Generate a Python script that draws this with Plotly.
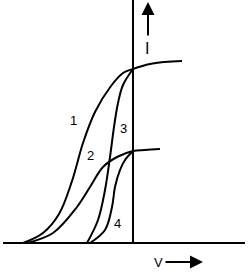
import plotly.graph_objects as go

# Schematic photo-current (I) vs voltage (V) curves, arbitrary units
curve1_v = [-110, -90, -74, -61, -50, -38, -22, -10, 0, 17, 32, 49]
curve1_i = [0, 10, 29, 62, 100, 131, 157, 170, 174, 179, 181, 182]

curve2_v = [-106, -80, -56, -43, -30, -16, 0, 12, 27]
curve2_i = [0, 10, 36, 56, 76, 86, 92, 93, 94]

curve3_v = [-46, -35, -28, -23, -19, -15, -10, 0]
curve3_i = [0, 23, 53, 86, 116, 140, 158, 174]

curve4_v = [-43, -28, -21, -18, -13, -8, 0]
curve4_i = [0, 13, 36, 56, 73, 83, 92]

curve_labels = ["1", "2", "3", "4"]
label_v = [-60, -43, -10, -16]
label_i = [123, 88, 115, 20]

axis_v = [-130, 112]
axis_i_top = 243

FONT = "Liberation Sans, Arial, sans-serif"
fig = go.Figure()

line = dict(color="black", width=2)
for vs, is_ in [(curve1_v, curve1_i), (curve2_v, curve2_i),
                (curve3_v, curve3_i), (curve4_v, curve4_i)]:
    fig.add_trace(go.Scatter(x=vs, y=is_, mode="lines",
                             line=dict(color="black", width=2, shape="spline", smoothing=1.0),
                             hoverinfo="skip", showlegend=False))

# axes
fig.add_trace(go.Scatter(x=axis_v, y=[0, 0], mode="lines", line=line,
                         hoverinfo="skip", showlegend=False))
fig.add_trace(go.Scatter(x=[0, 0], y=[0, axis_i_top], mode="lines", line=line,
                         hoverinfo="skip", showlegend=False))

for t, v, i in zip(curve_labels, label_v, label_i):
    fig.add_annotation(x=v, y=i, text=t, showarrow=False,
                       font=dict(family=FONT, size=13, color="black"))

# I arrow and label
fig.add_annotation(x=15, y=241, ax=15, ay=206, axref="x", ayref="y",
                   text="", showarrow=True, arrowhead=2, arrowsize=1.3,
                   arrowwidth=2, arrowcolor="black")
fig.add_annotation(x=14, y=195, text="I", showarrow=False,
                   font=dict(family=FONT, size=16, color="black"))

# V arrow and label
fig.add_annotation(x=70, y=-19, ax=31, ay=-19, axref="x", ayref="y",
                   text="", showarrow=True, arrowhead=2, arrowsize=1.3,
                   arrowwidth=2, arrowcolor="black")
fig.add_annotation(x=25, y=-19, text="V", showarrow=False,
                   font=dict(family=FONT, size=13, color="black"))

fig.update_layout(width=248, height=274, margin=dict(l=0, r=0, t=0, b=0),
                  paper_bgcolor="white", plot_bgcolor="white",
                  xaxis=dict(range=[-133, 115], visible=False),
                  yaxis=dict(range=[-31, 243], visible=False))

fig.write_html("out.html")
